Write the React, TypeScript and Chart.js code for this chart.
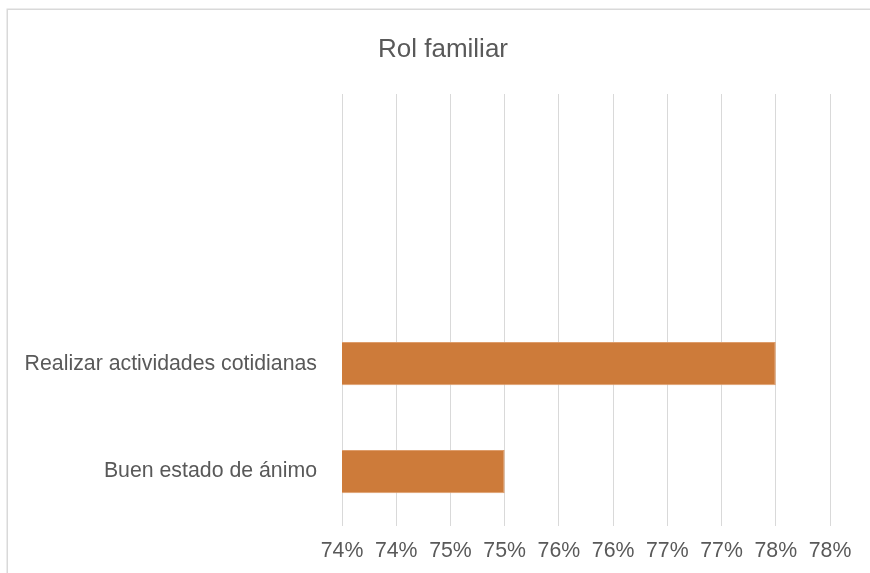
import React, { useEffect, useRef } from "react";
import { Chart, registerables } from "chart.js";

Chart.register(...registerables);

const chartTitle = "Rol familiar";
const categories = ["", "", "Realizar actividades cotidianas", "Buen estado de ánimo"];
const seriesValues: (number | null)[] = [null, null, 77.5, 75.0];
const axisMin = 73.5;
const axisMax = 78;
const axisStep = 0.5;
const tickLabels = ["74%", "74%", "75%", "75%", "76%", "76%", "77%", "77%", "78%", "78%"];

const TEXT = "#595959";
const GRID = "#d9d9d9";
const FONT = "'Liberation Sans', Arial, sans-serif";

const framePlugin = {
  id: "frame",
  beforeDraw(chart: any) {
    const ctx = chart.ctx;
    ctx.save();
    ctx.fillStyle = "#ffffff";
    ctx.fillRect(0, 0, chart.width, chart.height);
    ctx.strokeStyle = GRID;
    ctx.lineWidth = 1.5;
    ctx.strokeRect(7.25, 9.25, chart.width + 20, chart.height + 20);
    ctx.restore();
  },
  afterDraw(chart: any) {
    const ctx = chart.ctx;
    ctx.save();
    ctx.fillStyle = TEXT;
    ctx.font = `26px ${FONT}`;
    ctx.textAlign = "center";
    ctx.textBaseline = "alphabetic";
    ctx.fillText(chartTitle, 443, 56.5);
    ctx.restore();
  },
};

export default function App() {
  const ref = useRef<HTMLCanvasElement | null>(null);

  useEffect(() => {
    if (!ref.current) return;
    const chart = new Chart(ref.current, {
      type: "bar",
      data: {
        labels: categories,
        datasets: [
          {
            data: seriesValues as any,
            backgroundColor: "#CD7B3A",
            borderColor: "#DE9D6B",
            borderWidth: 1,
            categoryPercentage: 1,
            barPercentage: 0.4,
          },
        ],
      },
      options: {
        indexAxis: "y",
        animation: false,
        responsive: false,
        maintainAspectRatio: false,
        events: [],
        layout: { padding: { left: 0, right: 40, top: 94, bottom: 0 } },
        plugins: {
          legend: { display: false },
          tooltip: { enabled: false },
          title: { display: false },
        },
        scales: {
          x: {
            type: "linear",
            min: axisMin,
            max: axisMax,
            afterFit(scale: any) {
              scale.height = 47.5;
            },
            grid: { color: GRID, lineWidth: 1, drawTicks: false },
            border: { display: false },
            ticks: {
              stepSize: axisStep,
              autoSkip: false,
              maxRotation: 0,
              padding: 12.7,
              color: TEXT,
              font: { family: FONT, size: 21.3 },
              callback: (_v: any, i: number) => tickLabels[i] ?? "",
            },
          },
          y: {
            afterFit(scale: any) {
              scale.width = 342;
            },
            grid: { display: false, drawTicks: false },
            border: { display: false },
            ticks: {
              padding: 25,
              color: TEXT,
              font: { family: FONT, size: 21.3 },
            },
          },
        },
      },
      plugins: [framePlugin],
    } as any);
    return () => chart.destroy();
  }, []);

  return (
    <div style={{ position: "fixed", left: 0, top: 0, width: 870, height: 573 }}>
      <canvas ref={ref} width={870} height={573} style={{ display: "block", width: 870, height: 573 }} />
    </div>
  );
}
